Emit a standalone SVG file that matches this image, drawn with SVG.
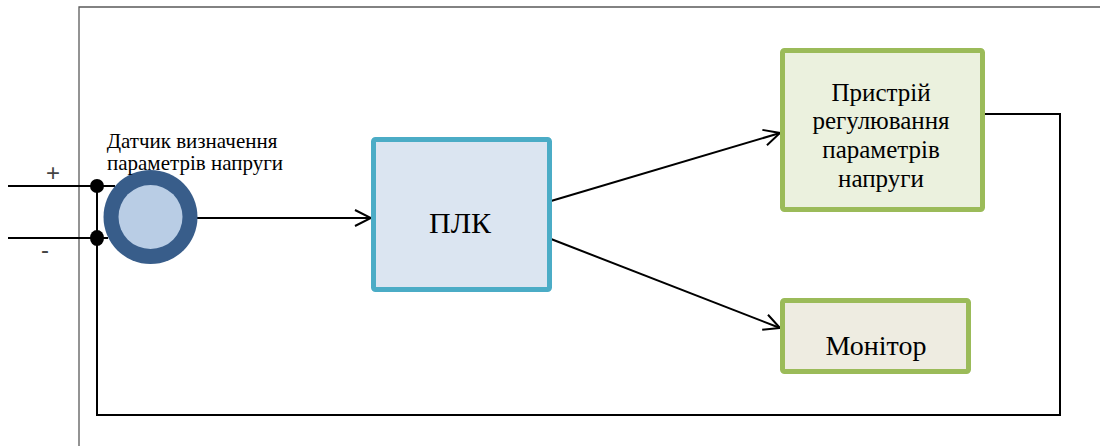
<svg xmlns="http://www.w3.org/2000/svg" width="1100" height="446" viewBox="0 0 1100 446">
  <style>
    .frame { fill: none; stroke: #5a5a5a; stroke-width: 1.3; }
    .wire { fill: none; stroke: #000; stroke-width: 2; }
    .arrow { fill: none; stroke: #000; stroke-width: 2; marker-end: url(#open); }
    .serif { font-family: 'Liberation Serif', 'DejaVu Serif', serif; fill: #000; text-anchor: middle; }
    .sign { font-family: 'Liberation Sans', 'DejaVu Sans', sans-serif; fill: #444; text-anchor: middle; }
  </style>
  <defs>
    <marker id="open" viewBox="0 0 20 20" refX="18" refY="10" markerWidth="20" markerHeight="20" markerUnits="userSpaceOnUse" orient="auto">
      <path d="M2,2 L18,10 L2,18" fill="none" stroke="#000" stroke-width="2"/>
    </marker>
  </defs>

  <rect width="1100" height="446" fill="#fff"/>

  <!-- page frame -->
  <path class="frame" d="M79,446 V7 H1100"/>

  <!-- connectors -->
  <g id="connectors">
    <path class="wire" d="M8,186 H97"/>
    <path class="wire" d="M8,238 H97"/>
    <path class="wire" d="M97,186 H115"/>
    <path class="wire" d="M97,238 H108"/>
    <path class="wire" d="M97,186 V415 H1060 V114 H984"/>
    <path class="arrow" d="M190,218 H371"/>
    <path class="arrow" d="M551,201 L780,133"/>
    <path class="arrow" d="M551,239 L780,328"/>
    <ellipse cx="97" cy="186" rx="7" ry="7" fill="#000"/>
    <ellipse cx="97" cy="238" rx="7" ry="8" fill="#000"/>
  </g>

  <!-- polarity marks -->
  <text class="sign" x="53" y="181" font-size="24">+</text>
  <text class="sign" x="45" y="258" font-size="24">-</text>

  <!-- voltage sensor -->
  <g id="sensor">
    <circle cx="150.5" cy="217" r="47" fill="#385d8a"/>
    <circle cx="150.5" cy="217" r="32" fill="#b9cde5"/>
    <text class="serif" x="192" y="148" font-size="21">Датчик визначення</text>
    <text class="serif" x="195" y="170" font-size="21">параметрів напруги</text>
  </g>

  <!-- PLC -->
  <g id="plc">
    <rect x="373.5" y="139.5" width="176" height="150" rx="2" fill="#dbe5f1" stroke="#4bacc6" stroke-width="5"/>
    <text class="serif" x="460" y="233" font-size="30">ПЛК</text>
  </g>

  <!-- regulating device -->
  <g id="regulator">
    <rect x="782.5" y="50.5" width="200" height="159" rx="2" fill="#ebf1de" stroke="#9bbb59" stroke-width="5"/>
    <text class="serif" x="881" y="101" font-size="25">Пристрій</text>
    <text class="serif" x="881" y="129" font-size="25">регулювання</text>
    <text class="serif" x="881" y="158" font-size="25">параметрів</text>
    <text class="serif" x="881" y="187" font-size="25">напруги</text>
  </g>

  <!-- monitor -->
  <g id="monitor">
    <rect x="782.5" y="300.5" width="186" height="71" rx="2" fill="#eeece1" stroke="#9bbb59" stroke-width="5"/>
    <text class="serif" x="876" y="355" font-size="28">Монітор</text>
  </g>
</svg>
